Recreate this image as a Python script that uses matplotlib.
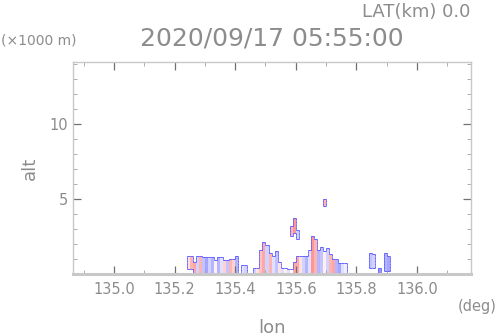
import numpy as np
import matplotlib
matplotlib.use('Agg')
import matplotlib.pyplot as plt
from matplotlib.colors import LinearSegmentedColormap
from matplotlib.collections import LineCollection
from matplotlib.ticker import MultipleLocator

# columns of the cross section, 0.01 deg wide, starting at lon 135.24
lon_start = 135.24
lon_step = 0.01
col_bot = [0.3, 0.3, 0, 0, 0, 0, 0, 0, 0, 0, 0, 0, 0, 0, 0, 0, 0, 0, 0, 0,
           0, 0, 0, 0, 0, 0, 0, 0, 0, 0, 0, 0, 0, 0, 0, 0, 0, 0, 0, 0,
           0, 0, 0, 0, 0, 0, 0, 0, 0, 0, 0, 0, 0, 0, 0, 0, 0, 0, 0, 0,
           0.4, 0.4, 0, 0, 0, 0.2, 0.2]
col_top = [1.2, 1.2, 0.8, 1.2, 1.2, 1.15, 1.15, 1.15, 1.1, 0.9,
           1.1, 1.1, 0.9, 0.95, 1.0, 1.0, 1.2, 0, 0.6, 0.6,
           0, 0, 0.4, 0.4, 1.6, 2.1, 1.9, 1.4, 1.2, 1.5,
           0.8, 0.4, 0.4, 0.3, 0.3, 0.8, 1.2, 1.2, 1.2, 1.25,
           1.6, 2.5, 2.3, 1.6, 1.8, 1.5, 1.7, 1.3, 1.0, 1.0,
           0.7, 0.7, 0.7, 0, 0, 0, 0, 0, 0, 0,
           1.4, 1.3, 0, 0.4, 0, 1.4, 1.2]
col_val = [0.2, 0.5, 0.6, -0.3, 0.5, -0.4, -0.6, -0.3, -0.5, 0.1,
           -0.5, -0.2, 0.3, -0.4, 0.5, 0.3, -0.5, 0, -0.2, -0.3,
           0, 0, -0.3, 0.2, 0.4, 0.6, -0.3, 0.5, -0.2, -0.4,
           0.2, -0.2, 0.1, -0.2, 0.0, 0.6, 0.6, 0.2, -0.3, -0.5,
           -0.2, 0.7, 0.5, -0.5, -0.4, 0.1, -0.3, 0.5, 0.6, -0.5,
           -0.6, -0.2, -0.1, 0, 0, 0, 0, 0, 0, 0,
           -0.4, -0.3, 0, -0.7, 0, -0.5, -0.6]

# elevated echoes
blob_col = [34, 35, 36, 45]
blob_bot = [2.5, 2.7, 2.3, 4.5]
blob_top = [3.2, 3.7, 2.9, 5.0]
blob_val = [0.5, 0.7, -0.3, 0.5]

ncol = len(col_top)
lon_edges = lon_start + lon_step * np.arange(ncol + 1)
z_edges = np.arange(0, 5.25, 0.1)
zc = 0.5 * (z_edges[:-1] + z_edges[1:])
field = np.full((len(zc), ncol), np.nan)
for k in range(ncol):
    sel = (zc > col_bot[k]) & (zc < col_top[k])
    field[sel, k] = col_val[k]
for c, b, t, v in zip(blob_col, blob_bot, blob_top, blob_val):
    sel = (zc > b) & (zc < t)
    field[sel, c] = v

cmap = LinearSegmentedColormap.from_list('vel', ['#6a6aff', '#ffffff', '#ff6a6a'])

fig = plt.figure(figsize=(4.98, 3.36), dpi=100)
ax = fig.add_axes([73 / 498, 62 / 336, 398 / 498, 212 / 336])
ax.pcolormesh(lon_edges, z_edges, np.ma.masked_invalid(field), cmap=cmap,
              vmin=-1, vmax=1, shading='flat')

# outline of the echo area
filled = ~np.isnan(field)
segs = []
nz = len(zc)
for i in range(nz):
    for k in range(ncol):
        if not filled[i, k]:
            continue
        x0, x1 = lon_edges[k], lon_edges[k + 1]
        y0, y1 = z_edges[i], z_edges[i + 1]
        if i == nz - 1 or not filled[i + 1, k]:
            segs.append([(x0, y1), (x1, y1)])
        if i == 0 or not filled[i - 1, k]:
            segs.append([(x0, y0), (x1, y0)])
        if k == 0 or not filled[i, k - 1]:
            segs.append([(x0, y0), (x0, y1)])
        if k == ncol - 1 or not filled[i, k + 1]:
            segs.append([(x1, y0), (x1, y1)])
ax.add_collection(LineCollection(segs, colors='#6464ff', linewidths=0.7))

ax.set_xlim(134.865, 136.178)
ax.set_ylim(0, 14.1)
ax.xaxis.set_major_locator(MultipleLocator(0.2))
ax.xaxis.set_minor_locator(MultipleLocator(0.1))
ax.yaxis.set_major_locator(MultipleLocator(5))
ax.yaxis.set_minor_locator(MultipleLocator(1))
ax.set_xticks([135.0, 135.2, 135.4, 135.6, 135.8, 136.0])
ax.set_xticklabels(['135.0', '135.2', '135.4', '135.6', '135.8', '136.0'])
ax.set_yticks([5, 10])
ax.set_yticklabels(['5', '10'])
ax.tick_params(which='both', direction='in', top=True, right=True,
               colors='#707070', labelcolor='#8c8c8c', labelsize=10.5)
ax.tick_params(which='major', length=6, width=0.9)
ax.tick_params(which='minor', length=3, width=0.6, colors='#a0a0a0')
ax.tick_params(axis='x', pad=6)
for s in ax.spines.values():
    s.set_color('#c8c8c8')
    s.set_linewidth(1.0)
ax.spines['bottom'].set_linewidth(2.2)

gray = '#8c8c8c'
fig.text(470 / 498, 1 - 12 / 336, 'LAT(km) 0.0', ha='right', va='center',
         fontsize=13, color=gray)
fig.text(272 / 498, 1 - 39 / 336, '2020/09/17 05:55:00', ha='center',
         va='center', fontsize=18, color=gray)
fig.text(1 / 498, 1 - 40 / 336, '(\u00d71000 m)', ha='left', va='center',
         fontsize=10, color=gray)
fig.text(30 / 498, 1 - 168 / 336, 'alt', ha='center', va='center',
         rotation=90, fontsize=13, color=gray)
fig.text(497 / 498, 1 - 307 / 336, '(deg)', ha='right', va='center',
         fontsize=10.5, color=gray)
fig.text(272 / 498, 1 - 328 / 336, 'lon', ha='center', va='center',
         fontsize=13, color=gray)

fig.savefig('out.png', dpi=100)
